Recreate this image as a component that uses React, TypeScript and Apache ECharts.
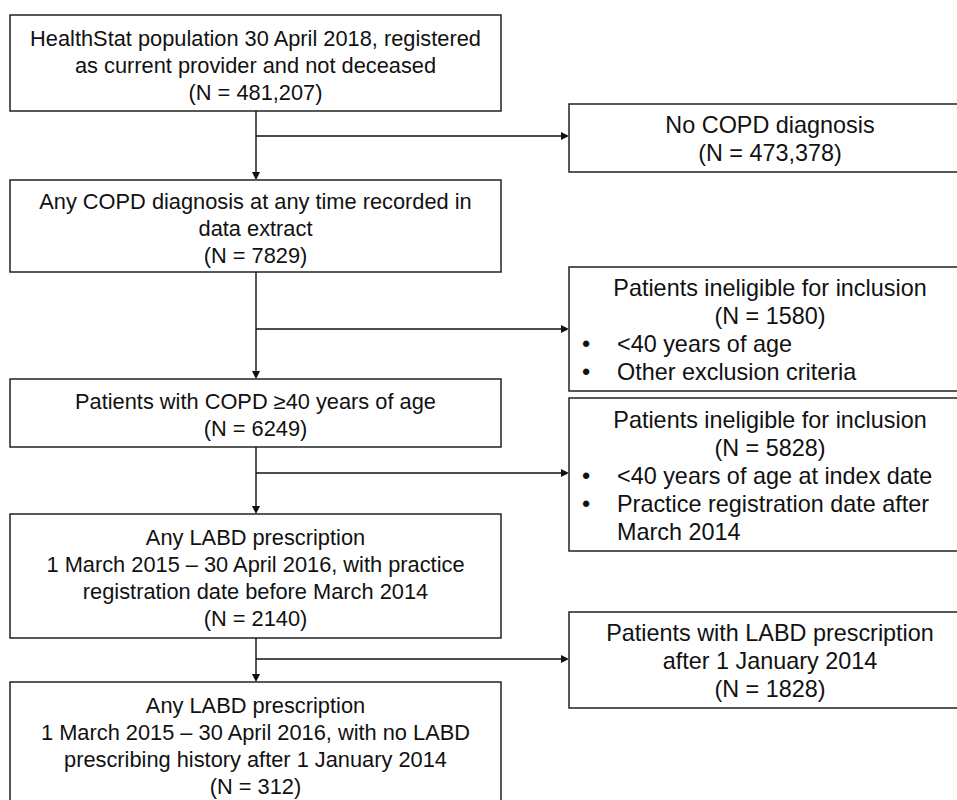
import React, { useEffect, useRef } from "react";
import * as echarts from "echarts";

// ---- Data ----
const mainTitles: string[][] = [
  ["HealthStat population 30 April 2018, registered", "as current provider and not deceased"],
  ["Any COPD diagnosis at any time recorded in", "data extract"],
  ["Patients with COPD \u226540 years of age"],
  ["Any LABD prescription", "1 March 2015 \u2013 30 April 2016, with practice", "registration date before March 2014"],
  ["Any LABD prescription", "1 March 2015 \u2013 30 April 2016, with no LABD", "prescribing history after 1 January 2014"],
];
const mainCounts = [481207, 7829, 6249, 2140, 312];

const exclTitles: string[][] = [
  ["No COPD diagnosis"],
  ["Patients ineligible for inclusion"],
  ["Patients ineligible for inclusion"],
  ["Patients with LABD prescription", "after 1 January 2014"],
];
const exclCounts = [473378, 1580, 5828, 1828];
const exclBullets: string[][][] = [
  [],
  [["<40 years of age"], ["Other exclusion criteria"]],
  [["<40 years of age at index date"], ["Practice registration date after", "March 2014"]],
  [],
];

// ---- Layout ----
const MAIN_X = 10;
const MAIN_W = 491;
const SPINE_X = 256;
const mainBoxY: number[][] = [[15, 111], [180, 272], [379, 447], [514, 638], [682, 806]];
const EXCL_X = 569;
const EXCL_W = 403;
const EXCL_CX = 770;
const exclBoxY: number[][] = [[104, 172], [267, 391], [398, 551], [612, 708]];
const branchY = [136, 329, 473, 659];
const MAIN_LINE_H = 27;
const EXCL_LINE_H = 28;
const MAIN_FONT = '21.8px "Liberation Sans", Arial, Helvetica, sans-serif';
const EXCL_FONT = '23.4px "Liberation Sans", Arial, Helvetica, sans-serif';
const TEXT_COLOR = "#111";
const LINE_COLOR = "#111";

function fmt(n: number): string {
  return n >= 10000 ? n.toLocaleString("en-US") : String(n);
}

function textEl(text: string, x: number, y: number, align: string, font: string) {
  return {
    type: "text",
    silent: true,
    style: {
      text,
      x,
      y,
      font,
      fill: TEXT_COLOR,
      align,
      verticalAlign: "middle",
      textAlign: align,
      textVerticalAlign: "middle",
    },
  };
}

function buildGraphic() {
  const els: any[] = [];
  // main boxes
  mainBoxY.forEach(([t, b], i) => {
    els.push({
      type: "rect",
      shape: { x: MAIN_X, y: t, width: MAIN_W, height: b - t },
      style: { fill: "#fff", stroke: "#222", lineWidth: 1.5 },
    });
    const lines = [...mainTitles[i], `(N = ${fmt(mainCounts[i])})`];
    const cy = (t + b) / 2 + 2;
    const y0 = cy - ((lines.length - 1) * MAIN_LINE_H) / 2;
    lines.forEach((ln, k) =>
      els.push(textEl(ln, MAIN_X + MAIN_W / 2, y0 + k * MAIN_LINE_H, "center", MAIN_FONT))
    );
  });
  // spine segments with arrows
  for (let i = 0; i < mainBoxY.length - 1; i++) {
    const y1 = mainBoxY[i][1];
    const y2 = mainBoxY[i + 1][0];
    els.push({
      type: "line",
      shape: { x1: SPINE_X, y1, x2: SPINE_X, y2: y2 - 7 },
      style: { stroke: LINE_COLOR, lineWidth: 1.4 },
    });
    els.push({
      type: "polygon",
      shape: { points: [[SPINE_X - 4, y2 - 8], [SPINE_X + 4, y2 - 8], [SPINE_X, y2]] },
      style: { fill: LINE_COLOR },
    });
  }
  // branches
  branchY.forEach((y) => {
    els.push({
      type: "line",
      shape: { x1: SPINE_X, y1: y, x2: EXCL_X - 7, y2: y },
      style: { stroke: LINE_COLOR, lineWidth: 1.4 },
    });
    els.push({
      type: "polygon",
      shape: { points: [[EXCL_X - 8, y - 4], [EXCL_X - 8, y + 4], [EXCL_X, y]] },
      style: { fill: LINE_COLOR },
    });
  });
  // exclusion boxes
  exclBoxY.forEach(([t, b], i) => {
    els.push({
      type: "rect",
      shape: { x: EXCL_X, y: t, width: EXCL_W, height: b - t },
      style: { fill: "#fff", stroke: "#222", lineWidth: 1.5 },
    });
    const centered = [...exclTitles[i], `(N = ${fmt(exclCounts[i])})`];
    const bulletLines: { text: string; bullet: boolean }[] = [];
    exclBullets[i].forEach((bl) => bl.forEach((ln, k) => bulletLines.push({ text: ln, bullet: k === 0 })));
    const total = centered.length + bulletLines.length;
    const cy = (t + b) / 2 + 1;
    const y0 = cy - ((total - 1) * EXCL_LINE_H) / 2;
    centered.forEach((ln, k) => els.push(textEl(ln, EXCL_CX, y0 + k * EXCL_LINE_H, "center", EXCL_FONT)));
    bulletLines.forEach((bl, k) => {
      const y = y0 + (centered.length + k) * EXCL_LINE_H;
      if (bl.bullet) els.push(textEl("\u2022", 582, y, "left", EXCL_FONT));
      els.push(textEl(bl.text, 617, y, "left", EXCL_FONT));
    });
  });
  return els;
}

export default function App() {
  const ref = useRef<HTMLDivElement>(null);
  useEffect(() => {
    document.body.style.margin = "0";
    document.body.style.overflow = "hidden";
    const chart = echarts.init(ref.current!, null, { renderer: "svg" });
    chart.setOption({
      animation: false,
      backgroundColor: "#fff",
      graphic: { elements: buildGraphic() },
    });
    return () => chart.dispose();
  }, []);
  return <div ref={ref} style={{ width: 957, height: 800 }} />;
}
